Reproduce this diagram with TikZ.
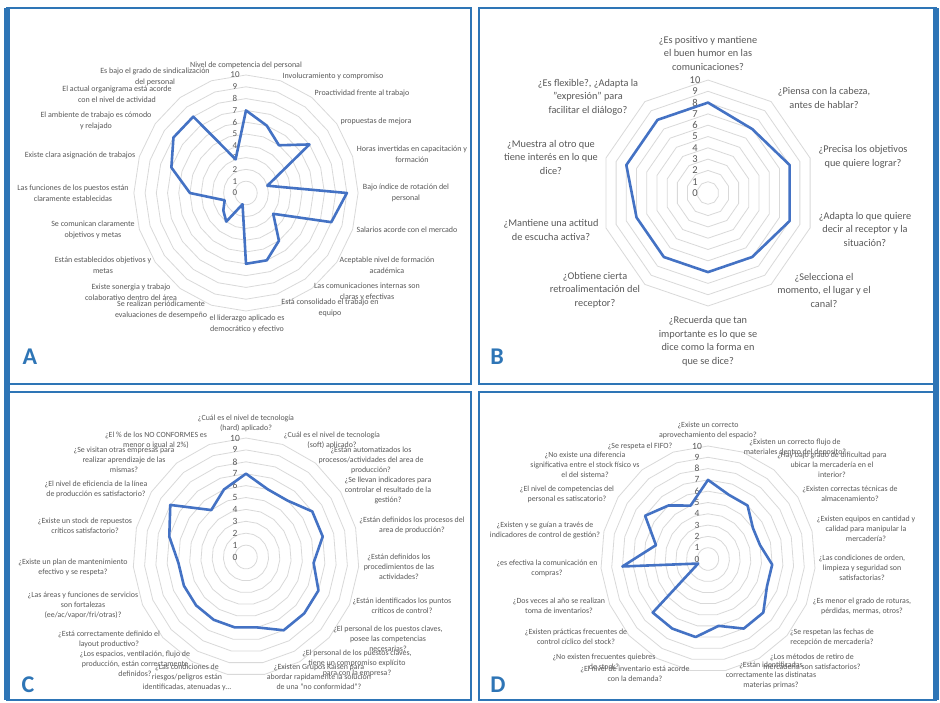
\documentclass[tikz,border=0pt]{standalone}
\usepackage{fontspec}
\setmainfont{Carlito}
\definecolor{panelblue}{HTML}{2E75B6}
\definecolor{gridgray}{HTML}{D9D9D9}
\definecolor{seriesblue}{HTML}{4472C4}
\definecolor{labelgray}{HTML}{595959}

% concentric polygon rings: cx, cy, R, number of axes, horizontal scale
\newcommand\radarrings[5]{%
  \foreach \k in {1,...,10}{%
    \draw[ring] ({#1},{#2-#3*\k/10})
      \foreach \i in {1,...,#4}{ -- ({#1+#5*#3*\k/10*sin(360*\i/#4)},{#2-#3*\k/10*cos(360*\i/#4)}) } -- cycle;
  }%
}
% value axis numbers 0..10: name, x of the column, cy, R, font
\newcommand\radarnumbers[5]{%
  \foreach \k in {0,...,10}{%
    \node[num,font=#5] (#1\k) at ({#2},{#3-#4*\k/10}) {\k};
  }%
}
% data polygon: name, cx, cy, R, number of axes, horizontal scale, values
\newcommand\radarseries[7]{%
  \foreach \v [count=\i] in {#7}{%
    \coordinate (#1\i) at ({#2+#6*#4*\v/10*sin(360*(\i-1)/#5)},{#3-#4*\v/10*cos(360*(\i-1)/#5)});
  }%
  \draw[series] (#11) \foreach \i in {2,...,#5}{ -- (#1\i) } -- cycle;
}

\begin{document}
\begin{tikzpicture}[x=1pt,y=-1pt,
  frame/.style={draw=panelblue,line width=2.6pt},
  outeredge/.style={draw=panelblue,line width=6pt},
  ring/.style={draw=gridgray,line width=0.8pt},
  series/.style={draw=seriesblue,line width=2.6pt,line join=round},
  num/.style={text=labelgray,inner sep=0pt,anchor=center},
  lbl/.style={text=labelgray,align=center,inner sep=0pt,anchor=center},
  lblA/.style={lbl,font=\fontsize{8}{10.5}\selectfont},
  lblB/.style={lbl,font=\fontsize{10.3}{13.5}\selectfont},
  lblC/.style={lbl,font=\fontsize{7.9}{10}\selectfont},
  tag/.style={text=panelblue,font=\fontsize{24}{24}\selectfont\bfseries,inner sep=0pt}
]
\useasboundingbox[fill=white] (0,0) rectangle (940,702);

% ---------------- panel frames and tags ----------------
\draw[frame] (7,8) rectangle (471,384);
\draw[frame] (479,8) rectangle (936,384);
\draw[frame] (7,392) rectangle (471,700);
\draw[frame] (479,392) rectangle (936,700);
\draw[outeredge] (7,8) -- (7,700);
\draw[outeredge] (936,8) -- (936,700);
\node[tag] (tagA) at (30,357) {A};
\node[tag] (tagB) at (497,357) {B};
\node[tag] (tagC) at (28,685) {C};
\node[tag] (tagD) at (498,685) {D};

% ---------------- A: personal ----------------
\radarrings{246}{193}{118}{20}{0.95}
\radarnumbers{nA}{235}{193}{118}{\fontsize{9}{9}\selectfont}
\radarseries{pA}{246}{193}{118}{20}{0.95}{7,6,5,7,2,9,8,3,5,6,6,1,3,2.5,2,5,7,8,8,3}
\node[lblA] (la1) at (246,65) {Nivel de competencia del personal};
\node[lblA] (la2) at (333,76) {Involucramiento y compromiso};
\node[lblA] (la3) at (362,93) {Proactividad frente al trabajo};
\node[lblA] (la4) at (376,121) {propuestas de mejora};
\node[lblA] (la5) at (412,154) {Horas invertidas en capacitación y\\formación};
\node[lblA] (la6) at (406,193) {Bajo índice de rotación del\\personal};
\node[lblA] (la7) at (407,230) {Salarios acorde con el mercado};
\node[lblA] (la8) at (387,265) {Aceptable nivel de formación\\académica};
\node[lblA] (la9) at (367,292) {Las comunicaciones internas son\\claras y efectivas};
\node[lblA] (la10) at (330,308) {Está consolidado el trabajo en\\equipo};
\node[lblA] (la11) at (247,324) {el liderazgo aplicado es\\democrático y efectivo};
\node[lblA] (la12) at (161,310) {Se realizan periódicamente\\evaluaciones de desempeño};
\node[lblA] (la13) at (131,292) {Existe sonergia y trabajo\\colaborativo dentro del área};
\node[lblA] (la14) at (103,265) {Están establecidos objetivos y\\metas};
\node[lblA] (la15) at (93,230) {Se comunican claramente\\objetivos y metas};
\node[lblA] (la16) at (73,193) {Las funciones de los puestos están\\claramente establecidas};
\node[lblA] (la17) at (80,155) {Existe clara asignación de trabajos};
\node[lblA] (la18) at (96,121) {El ambiente de trabajo es cómodo\\y relajado};
\node[lblA] (la19) at (117,94) {El actual organigrama está acorde\\con el nivel de actividad};
\node[lblA] (la20) at (155,77) {Es bajo el grado de sindicalización\\del personal};

% ---------------- B: communication ----------------
\radarrings{708}{193}{113}{10}{0.95}
\radarnumbers{nB}{695}{193}{113}{\fontsize{10.5}{10.5}\selectfont}
\radarseries{pB}{708}{193}{113}{10}{0.95}{8,7,8,8,7,7,7,7,8,8}
\node[lblB] (lb1) at (708,53) {¿Es positivo y mantiene\\el buen humor en las\\comunicaciones?};
\node[lblB] (lb2) at (824,98) {¿Piensa con la cabeza,\\antes de hablar?};
\node[lblB] (lb3) at (863,157) {¿Precisa los objetivos\\que quiere lograr?};
\node[lblB] (lb4) at (865,229) {¿Adapta lo que quiere\\decir al receptor y la\\situación?};
\node[lblB] (lb5) at (824,290) {¿Selecciona el\\momento, el lugar y el\\canal?};
\node[lblB] (lb6) at (708,341) {¿Recuerda que tan\\importante es lo que se\\dice como la forma en\\que se dice?};
\node[lblB] (lb7) at (595,290) {¿Obtiene cierta\\retroalimentación del\\receptor?};
\node[lblB] (lb8) at (551,230) {¿Mantiene una actitud\\de escucha activa?};
\node[lblB] (lb9) at (551,157) {¿Muestra al otro que\\tiene interés en lo que\\dice?};
\node[lblB] (lb10) at (588,97) {¿Es flexible?, ¿Adapta la\\"expresión" para\\facilitar el diálogo?};

% ---------------- C: production ----------------
\radarrings{246}{557}{119}{19}{0.95}
\radarnumbers{nC}{235}{557}{119}{\fontsize{9.5}{9.5}\selectfont}
\radarseries{pC}{246}{557}{119}{19}{0.95}{7,6,6,7,7,6,7,7,7,6,6,6,6,6,6,7,8,5,6}
\node[lblC] (lc1) at (246,423) {¿Cuál es el nivel de tecnología\\(hard) aplicado?};
\node[lblC] (lc2) at (332,440) {¿Cuál es el nivel de tecnología\\(soft) aplicado?};
\node[lblC] (lc3) at (371,460) {¿Están automatizados los\\procesos/actividades del area de\\producción?};
\node[lblC] (lc4) at (388,490) {¿Se llevan indicadores para\\controlar el resultado de la\\gestión?};
\node[lblC] (lc5) at (412,525) {¿Están definidos los procesos del\\area de producción?};
\node[lblC] (lc6) at (399,567) {¿Están definidos los\\procedimientos de las\\actividades?};
\node[lblC] (lc7) at (402,606) {¿Están identificados los puntos\\críticos de control?};
\node[lblC] (lc8) at (388,639) {¿El personal de los puestos claves,\\posee las competencias\\necesarias?};
\node[lblC] (lc9) at (357,663) {¿El personal de los puestos claves,\\tiene un compromiso explícito\\para con la empresa?};
\node[lblC] (lc10) at (319,677) {¿Existen Grupos Kaisen para\\abordar rapidamente la solución\\de una "no conformidad"?};
\node[lblC] (lc11) at (187,677) {¿Las condiciones de\\riesgos/peligros están\\identificadas, atenuadas y...};
\node[lblC] (lc12) at (135,664) {¿Los espacios, ventilación, flujo de\\producción, están correctamente\\definidos?};
\node[lblC] (lc13) at (109,639) {¿Está correctamente definido el\\layout productivo?};
\node[lblC] (lc14) at (83,605) {¿Las áreas y funciones de servicios\\son fortalezas\\(ee/ac/vapor/fri/otras)?};
\node[lblC] (lc15) at (73,567) {¿Existe un plan de mantenimiento\\efectivo y se respeta?};
\node[lblC] (lc16) at (85,526) {¿Existe un stock de repuestos\\críticos satisfactorio?};
\node[lblC] (lc17) at (96,489) {¿El nivel de eficiencia de la línea\\de producción es satisfactorio?};
\node[lblC] (lc18) at (124,460) {¿Se visitan otras empresas para\\realizar aprendizaje de las\\mismas?};
\node[lblC] (lc19) at (156,440) {¿El \% de los NO CONFORMES es\\menor o igual al 2\%)};

% ---------------- D: warehouse ----------------
\radarrings{708}{559}{113}{19}{0.95}
\radarnumbers{nD}{697}{559}{113}{\fontsize{9.5}{9.5}\selectfont}
\radarseries{pD}{708}{559}{113}{19}{0.95}{7,6,6,5,5,6,6,7,7,6,7,7,7,1,8,5,7,6,5}
\node[lblC] (ld1) at (708,430) {¿Existe un correcto\\aprovechamiento del espacio?};
\node[lblC] (ld2) at (795,447) {¿Existen un correcto flujo de\\materiales dentro del deposito?};
\node[lblC] (ld3) at (832,465) {¿Hay bajo grado de dificultad para\\ubicar la mercadería en el\\interior?};
\node[lblC] (ld4) at (850,494) {¿Existen correctas técnicas de\\almacenamiento?};
\node[lblC] (ld5) at (866,529) {¿Existen equipos en cantidad y\\calidad para manipular la\\mercadería?};
\node[lblC] (ld6) at (862,568) {¿Las condiciones de orden,\\limpieza y seguridad son\\satisfactorias?};
\node[lblC] (ld7) at (862,606) {¿Es menor el grado de roturas,\\pérdidas, mermas, otros?};
\node[lblC] (ld8) at (832,637) {¿Se respetan las fechas de\\recepción de mercadería?};
\node[lblC] (ld9) at (812,662) {¿Los métodos de retiro de\\mercadería son satisfactorios?};
\node[lblC] (ld10) at (771,675) {¿Están identificadas\\correctamente las distinatas\\materias primas?};
\node[lblC] (ld11) at (635,674) {¿El nivel de inventario está acorde\\con la demanda?};
\node[lblC] (ld12) at (604,662) {¿No existen frecuentes quiebres\\de stock?};
\node[lblC] (ld13) at (576,637) {¿Existen prácticas frecuentes de\\control cíclico del stock?};
\node[lblC] (ld14) at (559,606) {¿Dos veces al año se realizan\\toma de inventarios?};
\node[lblC] (ld15) at (547,568) {¿es efectiva la comunicación en\\compras?};
\node[lblC] (ld16) at (545,530) {¿Existen y se guían a través de\\indicadores de control de gestión?};
\node[lblC] (ld17) at (567,494) {¿El nivel de competencias del\\personal es satiscatorio?};
\node[lblC] (ld18) at (585,465) {¿No existe una diferencia\\significativa entre el stock físico vs\\el del sistema?};
\node[lblC] (ld19) at (640,446) {¿Se respeta el FIFO?};
\end{tikzpicture}
\end{document}
